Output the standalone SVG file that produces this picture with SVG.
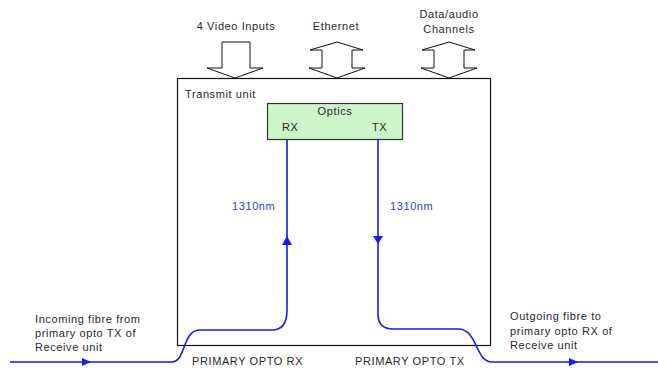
<svg xmlns="http://www.w3.org/2000/svg" width="658" height="369" viewBox="0 0 658 369">
<style>
text{font-family:"Liberation Sans",Arial,sans-serif;font-size:11px;fill:#2a2a2a;letter-spacing:0.6px}
.nm{fill:#3a3ac8}
.fib{fill:none;stroke:#1a1aee;stroke-width:1.6}
.blk{fill:#fff;stroke:#111;stroke-width:1}
.ah{fill:#1a1aee}
</style>
<rect width="658" height="369" fill="#fff"/>
<g id="transmit-unit">
<rect x="177.5" y="78.5" width="313" height="267" fill="#fff" stroke="#111" stroke-width="1.2"/>
<text x="185" y="98">Transmit unit</text>
</g>
<g id="optics">
<rect x="267.5" y="103.5" width="135" height="36" fill="#ccf5c8" stroke="#333" stroke-width="1.2"/>
<text x="335" y="115" text-anchor="middle">Optics</text>
<text x="282" y="131" font-size="9px">RX</text>
<text x="372" y="131" font-size="9px">TX</text>
</g>
<g id="video-inputs">
<text x="236" y="30" text-anchor="middle">4 Video Inputs</text>
<path class="blk" d="M222,42 H250 V68 H263 L235,78 L207,68 H222 Z"/>
</g>
<g id="ethernet">
<text x="336" y="30" text-anchor="middle">Ethernet</text>
<path class="blk" d="M337,42 L363,50 H352 V68 H365 L337,78 L309,68 H322 V50 H310 Z"/>
</g>
<g id="data-audio">
<text x="449" y="18" text-anchor="middle">Data/audio</text>
<text x="449" y="33" text-anchor="middle">Channels</text>
<path class="blk" d="M449,42 L475,50 H464 V68 H477 L449,78 L421,68 H434 V50 H422 Z"/>
</g>
<g id="incoming-label">
<text x="35" y="323">Incoming fibre from</text>
<text x="35" y="337">primary opto TX of</text>
<text x="35" y="351">Receive unit</text>
</g>
<g id="outgoing-label">
<text x="510" y="320">Outgoing fibre to</text>
<text x="510" y="335">primary opto RX of</text>
<text x="510" y="349">Receive unit</text>
</g>
<g id="port-labels">
<text x="192" y="365">PRIMARY OPTO RX</text>
<text x="355" y="365">PRIMARY OPTO TX</text>
</g>
<g id="connectors">
<path class="fib" d="M10,362 H172 C186,362 182,330 200,330 H272 C283,330 287,322 287,310 V140"/>
<path class="fib" d="M378,140 V314 C378,324 383,329 393,329 H458 C478,329 475,362 492,362 H658"/>
<path class="ah" d="M82,358 L91,362 L82,366 Z"/>
<path class="ah" d="M569,358 L578,362 L569,366 Z"/>
<path class="ah" d="M282,245 L287,236 L292,245 Z"/>
<path class="ah" d="M373,236 L383,236 L378,244 Z"/>
<text class="nm" x="232" y="210">1310nm</text>
<text class="nm" x="390" y="210">1310nm</text>
</g>
</svg>
